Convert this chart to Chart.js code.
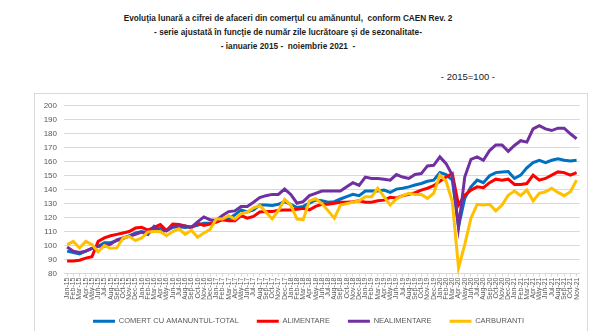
<!DOCTYPE html>
<html>
<head>
<meta charset="utf-8">
<script src="https://cdn.jsdelivr.net/npm/chart.js@4/dist/chart.umd.min.js"></script>
<style>
  html, body { margin: 0; padding: 0; background: #fff; }
  body { width: 600px; height: 331px; position: relative; overflow: hidden; font-family: "Liberation Sans", Arial, sans-serif; }
  .t { position: absolute; left: 0; width: 576px; text-align: center; font-weight: bold; font-size: 9.5px; color: #1c1c1c; white-space: pre; transform: scaleX(0.87); transform-origin: 288px 0; }
  .base { position: absolute; right: 105px; top: 71px; font-size: 9.5px; color: #1c1c1c; }
  .frame { position: absolute; left: 34px; top: 93px; width: 552px; height: 260px; border: 1px solid #d9d9d9; }
  #chart { position: absolute; left: 35px; top: 94px; }
</style>
</head>
<body>
<div class="t" style="top:12px">Evoluţia lunară a cifrei de afaceri din comerţul cu amănuntul,  conform CAEN Rev. 2</div>
<div class="t" style="top:26px">- serie ajustată în funcţie de număr zile lucrătoare şi de sezonalitate-</div>
<div class="t" style="top:40px">- ianuarie 2015 -  noiembrie 2021  -</div>
<div class="base">- 2015=100 -</div>
<div class="frame"></div>
<canvas id="chart" width="551" height="241"></canvas>
<script>
// ian 2015 - nov 2021, 2015=100
const months = ['Jan', 'Feb', 'Mar', 'Apr', 'May', 'Jun', 'Jul', 'Aug', 'Sep', 'Oct', 'Nov', 'Dec'];
const years = ['15', '16', '17', '18', '19', '20', '21'];
const lastMonths = 11; // 2021 stops at Nov

const total = [
  96, 95, 94, 96, 98, 99.5, 102, 102, 103.5, 105, 107, 109,
  110, 109, 111, 112.5, 110.7, 113, 113.5, 113, 113.5, 114.5, 116, 116,
  117, 119, 119, 122, 125.5, 124, 125.5, 129, 129, 128.6, 129.5, 131.4,
  129.5, 127.2, 128, 130.3, 132.6, 132, 131, 131.4, 133.3, 135, 136.6, 135.7,
  139, 139, 139, 139.7, 138, 140.4, 141, 142, 143.3, 144.4, 146, 146.8,
  152.2, 150.8, 146.8, 113.7, 133.8, 142, 146.8, 145, 150, 152.2, 152.7, 153,
  148, 150.4, 155.6, 159.3, 161, 159.3, 161, 162, 161, 160.5, 161
];
const alimentare = [
  89, 89, 89.5, 91, 92, 103, 105.5, 107, 108, 109, 110, 112.5,
  113, 111, 113, 115, 110.7, 115.4, 115, 114, 113, 116, 114.4, 115.4,
  116.8, 118.4, 117.7, 117.7, 121.5, 119.6, 120.8, 124, 124.3, 124.3, 125.3, 125.5,
  125.5, 126, 126.7, 125.5, 128, 129.5, 129.5, 130.3, 131, 131, 131.4, 132,
  131, 131, 132, 132.5, 134.5, 134, 135.7, 136.6, 137.8, 139.7, 141, 142.8,
  146, 149, 151.5, 129, 136, 139.7, 142, 141.4, 145, 147.5, 146.8, 147.5,
  143.7, 143.7, 144.4, 150.4, 146.8, 148, 150.4, 152.7, 152.2, 150.4, 152.2
];
const nealimentare = [
  99, 96, 95, 96, 98, 99.5, 99.5, 101, 104, 105.5, 106.6, 108,
  109.7, 108, 113.7, 110, 110.7, 113.7, 114, 114, 113, 117, 120.5, 118.5,
  118, 121.5, 124.3, 124.8, 128, 128, 131, 134.3, 135.7, 136.6, 136.6, 140.4,
  136.6, 130.3, 131.4, 135.7, 137.4, 139, 139, 139, 139, 142, 145, 143,
  149, 148, 148, 147.5, 146.8, 150.8, 149, 148, 150.8, 151.5, 157, 157.4,
  163.4, 158.6, 150.4, 113, 149, 161.7, 163.4, 161, 168, 172, 172, 167.4,
  171.6, 175, 174, 183.5, 185.8, 183.5, 182.3, 184, 184, 180, 176.4
];
const carburanti = [
  100.7, 103, 98.3, 103, 100.7, 95.5, 100, 98, 98.3, 105.4, 106.6, 103.5,
  105.4, 109.7, 110, 110, 107, 110, 112, 108, 111, 106, 109, 111.4,
  119, 119, 121.4, 119, 122.7, 124, 127, 128.6, 124, 119, 125, 133,
  129, 119, 118.5, 132, 133.5, 130, 125, 119.5, 129, 130, 131, 132,
  135, 135, 141, 135, 129, 133.3, 135.7, 137.4, 136.6, 136.6, 133.8, 137.4,
  150.4, 146, 131.4, 84, 100.7, 119.6, 129.5, 129, 129.5, 124.8, 129, 136,
  139, 135.7, 139.7, 132, 137.4, 138.5, 141, 138, 135.7, 138.5, 146.8
];

const labels = [];
years.forEach((y, yi) => {
  const n = yi === years.length - 1 ? lastMonths : 12;
  for (let m = 0; m < n; m++) labels.push(months[m] + '-' + y);
});

const series = [
  { label: 'COMERT CU AMANUNTUL-TOTAL', data: total, color: '#0070C0' },
  { label: 'ALIMENTARE', data: alimentare, color: '#FF0000' },
  { label: 'NEALIMENTARE', data: nealimentare, color: '#7030A0' },
  { label: 'CARBURANTI', data: carburanti, color: '#FFC000' },
];

const grey = '#595959';

new Chart(document.getElementById('chart'), {
  type: 'line',
  data: {
    labels,
    datasets: series.map((s, i) => ({
      label: s.label,
      data: s.data,
      borderColor: s.color,
      backgroundColor: s.color,
      borderWidth: 3,
      pointRadius: 0,
      tension: 0,
      order: series.length - i, // later series drawn on top
    })),
  },
  options: {
    responsive: false,
    animation: false,
    layout: { padding: { left: 0, right: 4, top: 11, bottom: 0 } },
    plugins: {
      title: { display: false },
      tooltip: { enabled: false },
      legend: {
        position: 'bottom',
        labels: {
          usePointStyle: true,
          pointStyle: 'line',
          pointStyleWidth: 22,
          boxHeight: 8,
          padding: 18,
          color: grey,
          font: { family: 'Liberation Sans', size: 7.5 },
          sort: (a, b) => a.datasetIndex - b.datasetIndex,
        },
      },
    },
    scales: {
      x: {
        offset: true,
        grid: { display: true, drawOnChartArea: false, color: '#d9d9d9', tickLength: 3 },
        border: { display: true, color: '#d9d9d9' },
        ticks: {
          autoSkip: false,
          maxRotation: 90,
          minRotation: 90,
          padding: 1,
          color: grey,
          font: { family: 'Liberation Sans', size: 7 },
        },
        afterFit: (s) => { s.height = 26; },
      },
      y: {
        min: 80,
        max: 200,
        ticks: {
          stepSize: 10,
          padding: 7,
          color: grey,
          font: { family: 'Liberation Sans', size: 8 },
        },
        grid: { color: '#d9d9d9', drawTicks: false },
        border: { display: false },
        afterFit: (s) => { s.width = 29; },
      },
    },
  },
});
</script>
</body>
</html>
